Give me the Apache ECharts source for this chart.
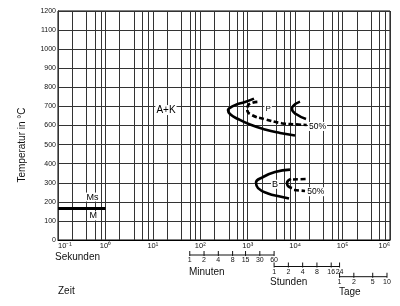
<!DOCTYPE html>
<html><head><meta charset="utf-8">
<script src="https://cdn.jsdelivr.net/npm/echarts@6/dist/echarts.min.js"></script>
<style>html,body{margin:0;padding:0;background:#fff}#c{width:400px;height:306px}</style>
</head><body><div id="c"></div>
<script>
// ---- data ----
const decades = [0.1, 1, 10, 100, 1e3, 1e4, 1e5, 1e6];      // seconds, labelled decades
const gridMultipliers = [1, 2, 4, 6, 8];                     // vertical grid lines per decade
const tempMin = 0, tempMax = 1200, tempStep = 100;           // °C

// time in seconds, temperature in °C
const pearliteStart = [[1355,741],[877,723],[540,707],[403,689],[384,681],[423,660],[624,634],[1117,605],[2312,579],[4797,561],[9930,548]];
const pearlite50    = [[1600,724],[1028,707],[979,681],[1214,655],[2312,633],[5200,612],[9930,606],[17540,603]];
const pearliteEnd   = [[12650,725],[9020,702],[8590,686],[10420,660],[16950,634]];
const bainiteStart  = [[7780,369],[3757,356],[2100,330],[1496,301],[1648,272],[2680,244],[4797,228],[7430,217]];
const bainiteEnd    = [[8170,320],[6730,299],[7060,283],[8590,272]];
const bainite50Up   = [[9020,317],[17780,320]];
const bainite50Low  = [[9460,262],[16150,257]];
const msLine        = [[0.1,165],[1,165]];

const annotations = [
  ['A+K', 18.9, 681, 10],
  ['P',   2700, 688, 8],
  ['50%', 29580, 595, 8.5],
  ['B',   3757, 292, 9],
  ['50%', 27240, 253, 8.5],
  ['Ms',  0.533, 225, 9],
  ['M',   0.554, 126, 9]
];

// secondary time scales
const minuteTicks = [1, 2, 4, 8, 15, 30, 60];
const hourTicks   = [1, 2, 4, 8, 16, 24];
const dayTicks    = [1, 2, 5, 10];

// ---- chart ----
const FONT = 'Liberation Sans, Arial, sans-serif';
const SUP = {'0':'⁰','1':'¹','2':'²','3':'³','4':'⁴','5':'⁵','6':'⁶','7':'⁷','8':'⁸','9':'⁹','-':'⁻'};
const sup = n => String(n).split('').map(c => SUP[c]).join('');

const vLines = [];
decades.slice(0, -1).forEach(d => gridMultipliers.forEach(m => vLines.push(d * m)));
vLines.push(decades[decades.length - 1]);

const curve = (data, dashed) => ({
  type: 'line', xAxisIndex: 0, yAxisIndex: 0, data, smooth: 0.5, symbol: 'none', z: 5,
  lineStyle: { color: '#000', width: 2.6, type: dashed ? [5, 2.5] : 'solid', cap: 'butt' }
});

const scaleSeries = (ticks, unit, row) => [
  { type: 'line', xAxisIndex: 1, yAxisIndex: 1, symbol: 'none',
    data: [[ticks[0] * unit, row], [ticks[ticks.length - 1] * unit, row]],
    lineStyle: { color: '#111', width: 1 } },
  { type: 'scatter', xAxisIndex: 1, yAxisIndex: 1, symbol: 'rect', symbolSize: [1, 5], symbolOffset: [0, -1.5],
    itemStyle: { color: '#111', opacity: 1 },
    data: ticks.map(t => [t * unit, row, t]),
    label: { show: true, position: 'bottom', distance: 1, fontSize: 7, fontFamily: FONT, color: '#111',
             formatter: p => String(p.value[2]) } }
];

const option = {
  animation: false,
  backgroundColor: '#fff',
  grid: [
    { left: 58, right: 10, top: 11, height: 229, show: true, borderColor: '#000', borderWidth: 1 },
    { left: 58, right: 10, top: 250, height: 40 }
  ],
  xAxis: [
    { type: 'log', logBase: 10, gridIndex: 0, min: decades[0], max: decades[decades.length - 1], splitNumber: 7,
      axisLine: { show: true, lineStyle: { color: '#000' } }, axisTick: { show: false },
      splitLine: { show: false }, minorSplitLine: { show: false },
      axisLabel: { fontSize: 7.5, margin: 2, color: '#111', fontFamily: FONT, alignMinLabel: 'left', alignMaxLabel: 'right',
                   formatter: v => '10' + sup(Math.round(Math.log10(v))) } },
    { type: 'log', logBase: 10, gridIndex: 1, min: decades[0], max: decades[decades.length - 1], show: false }
  ],
  yAxis: [
    { type: 'value', gridIndex: 0, min: tempMin, max: tempMax, interval: tempStep,
      axisLine: { show: true, lineStyle: { color: '#000' } }, axisTick: { show: false },
      splitLine: { show: true, lineStyle: { color: '#333', width: 1 } },
      axisLabel: { fontSize: 7, margin: 2, color: '#111', fontFamily: FONT, formatter: v => String(v) } },
    { type: 'value', gridIndex: 1, min: 0, max: 40, inverse: true, show: false }
  ],
  graphic: [
    { type: 'text', x: 22, y: 145, rotation: Math.PI / 2,
      style: { text: 'Temperatur in °C', fontSize: 10, fontFamily: FONT, fill: '#111', align: 'center', verticalAlign: 'middle' } },
    { type: 'text', left: 55, top: 252, style: { text: 'Sekunden', fontSize: 10, fontFamily: FONT, fill: '#111' } },
    { type: 'text', left: 189, top: 267, style: { text: 'Minuten', fontSize: 10, fontFamily: FONT, fill: '#111' } },
    { type: 'text', left: 270, top: 277.5, style: { text: 'Stunden', fontSize: 10, fontFamily: FONT, fill: '#111' } },
    { type: 'text', left: 339, top: 287, style: { text: 'Tage', fontSize: 10, fontFamily: FONT, fill: '#111' } },
    { type: 'text', left: 58, top: 286.5, style: { text: 'Zeit', fontSize: 10, fontFamily: FONT, fill: '#111' } }
  ],
  series: [
    { type: 'line', xAxisIndex: 0, yAxisIndex: 0, data: [], z: 1,
      markLine: { silent: true, symbol: 'none', label: { show: false }, animation: false,
                  lineStyle: { color: '#333', width: 1, type: 'solid' },
                  data: vLines.map(v => ({ xAxis: v })) } },
    curve(pearliteStart), curve(pearlite50, true), curve(pearliteEnd),
    curve(bainiteStart), curve(bainiteEnd), curve(bainite50Up, true), curve(bainite50Low, true),
    { type: 'line', xAxisIndex: 0, yAxisIndex: 0, data: msLine, symbol: 'none', z: 5,
      lineStyle: { color: '#000', width: 3 } },
    { type: 'scatter', xAxisIndex: 0, yAxisIndex: 0, symbolSize: 1, z: 6,
      itemStyle: { color: 'rgba(0,0,0,0)', opacity: 1 },
      data: annotations.map(a => ({ value: [a[1], a[2]], name: a[0],
        label: { show: true, position: 'inside', formatter: a[0], fontSize: a[3], fontFamily: FONT,
                 color: '#000', textBorderWidth: 0, backgroundColor: '#fff', padding: [0, 1] } })) },
    ...scaleSeries(minuteTicks, 60, 5),
    ...scaleSeries(hourTicks, 3600, 16.5),
    ...scaleSeries(dayTicks, 86400, 26.7)
  ]
};
const chart = echarts.init(document.getElementById('c'));
chart.setOption(option);
</script>
</body></html>
